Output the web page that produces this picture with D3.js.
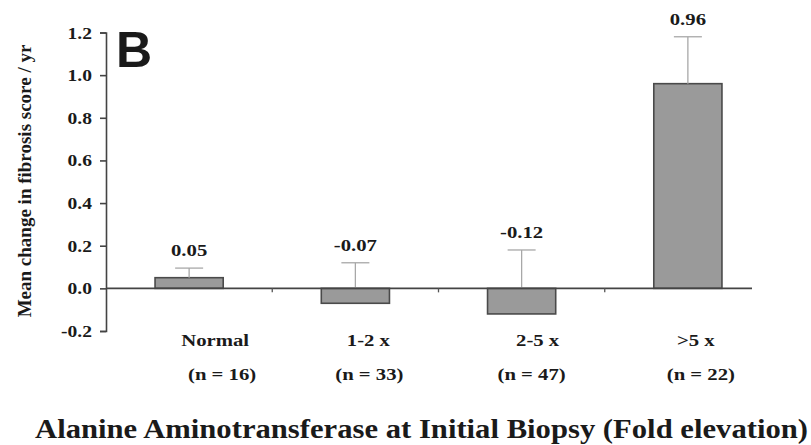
<!DOCTYPE html>
<html>
<head>
<meta charset="utf-8">
<script src="https://cdn.jsdelivr.net/npm/d3@7"></script>
<style>
  html, body { margin: 0; padding: 0; background: #fff; }
  svg { display: block; }
  text { font-family: "Liberation Serif", "Times New Roman", serif; font-weight: bold; fill: #1a1a1a; }
</style>
</head>
<body>
<svg id="chart" width="811" height="445"></svg>
<script>
// ALT fold-elevation groups and mean yearly change in fibrosis score
const categories = ["Normal", "1-2 x", "2-5 x", ">5 x"];
const groupSizes = ["(n = 16)", "(n = 33)", "(n = 47)", "(n = 22)"];
const means = [0.05, -0.07, -0.12, 0.96];
const errorTops = [0.095, 0.12, 0.18, 1.18];
const valueLabels = ["0.05", "-0.07", "-0.12", "0.96"];
const yTicks = [-0.2, 0.0, 0.2, 0.4, 0.6, 0.8, 1.0, 1.2];

const svg = d3.select("#chart");
const WIDE = 1.22; // horizontal widening applied to the serif labels

const y = d3.scaleLinear().domain([-0.2, 1.2]).range([331, 32.5]);
const x = d3.scaleBand().domain(categories).range([106, 771]).paddingInner(0.59).paddingOuter(0.295);
const cx = d => x(d) + x.bandwidth() / 2;

// y axis
const yAxis = d3.axisLeft(y).tickValues(yTicks).tickSize(6).tickFormat(() => "");
const gy = svg.append("g").attr("transform", "translate(106,0)").call(yAxis);
gy.select(".domain").attr("stroke", "#444").attr("stroke-width", 1.6);
gy.selectAll(".tick line").attr("stroke", "#444").attr("stroke-width", 1.6);
gy.selectAll(".tick").append("text")
  .attr("transform", `translate(-14,5.5) scale(${WIDE},1)`)
  .attr("text-anchor", "end")
  .style("font-size", "16px")
  .text(d => d < 0 ? "-" + Math.abs(d).toFixed(1) : d.toFixed(1));

// bars
svg.append("g").selectAll("rect").data(categories).join("rect")
  .attr("x", d => x(d))
  .attr("width", x.bandwidth())
  .attr("y", (d, i) => y(Math.max(0, means[i])))
  .attr("height", (d, i) => Math.abs(y(means[i]) - y(0)))
  .attr("fill", "#9a9a9a")
  .attr("stroke", "#4a4a4a")
  .attr("stroke-width", 1.6);

// error whiskers, drawn up from the top edge of each bar
const eb = svg.append("g");
eb.selectAll("line.stem").data(categories).join("line")
  .attr("class", "stem")
  .attr("x1", cx).attr("x2", cx)
  .attr("y1", (d, i) => y(Math.max(0, means[i])))
  .attr("y2", (d, i) => y(errorTops[i]))
  .attr("stroke", "#a8a8a8").attr("stroke-width", 1.3);
eb.selectAll("line.cap").data(categories).join("line")
  .attr("class", "cap")
  .attr("x1", d => cx(d) - 14)
  .attr("x2", d => cx(d) + 14)
  .attr("y1", (d, i) => y(errorTops[i]))
  .attr("y2", (d, i) => y(errorTops[i]))
  .attr("stroke", "#a8a8a8").attr("stroke-width", 1.3);

// zero baseline with small separators between groups
svg.append("line")
  .attr("x1", 106).attr("x2", 752)
  .attr("y1", y(0)).attr("y2", y(0))
  .attr("stroke", "#444").attr("stroke-width", 1.6);
const gap = (x.step() - x.bandwidth()) / 2;
svg.append("g").selectAll("line").data(categories.slice(1)).join("line")
  .attr("x1", d => x(d) - gap)
  .attr("x2", d => x(d) - gap)
  .attr("y1", y(0)).attr("y2", y(0) + 4)
  .attr("stroke", "#555").attr("stroke-width", 1.3);

// value labels above the whiskers
svg.append("g").selectAll("text").data(categories).join("text")
  .attr("transform", (d, i) => `translate(${cx(d)},${y(errorTops[i]) - 12}) scale(${WIDE},1)`)
  .attr("text-anchor", "middle")
  .style("font-size", "17px")
  .text((d, i) => valueLabels[i]);

// category labels sit slightly right of their bars
const nameShift = [26, 13, 16, 8];
const sizeShift = [33, 14, 10, 13];
svg.append("g").selectAll("text").data(categories).join("text")
  .attr("transform", (d, i) => `translate(${cx(d) + nameShift[i]},346) scale(${WIDE},1)`)
  .attr("text-anchor", "middle")
  .style("font-size", "17px")
  .text(d => d);
svg.append("g").selectAll("text").data(categories).join("text")
  .attr("transform", (d, i) => `translate(${cx(d) + sizeShift[i]},380) scale(${WIDE},1)`)
  .attr("text-anchor", "middle")
  .style("font-size", "17px")
  .text((d, i) => groupSizes[i]);

// panel letter
svg.append("text")
  .attr("x", 116).attr("y", 67)
  .style("font-family", "'Liberation Sans', Arial, sans-serif")
  .style("font-weight", "bold")
  .style("font-size", "50px")
  .attr("fill", "#111")
  .text("B");

// y axis title
svg.append("text")
  .attr("transform", "translate(31,181) rotate(-90)")
  .attr("text-anchor", "middle")
  .style("font-size", "19px")
  .text("Mean change in fibrosis score / yr");

// x axis title
svg.append("text")
  .attr("x", 35).attr("y", 438)
  .attr("textLength", 773)
  .attr("lengthAdjust", "spacingAndGlyphs")
  .style("font-size", "27px")
  .text("Alanine Aminotransferase at Initial Biopsy (Fold elevation)");
</script>
</body>
</html>
